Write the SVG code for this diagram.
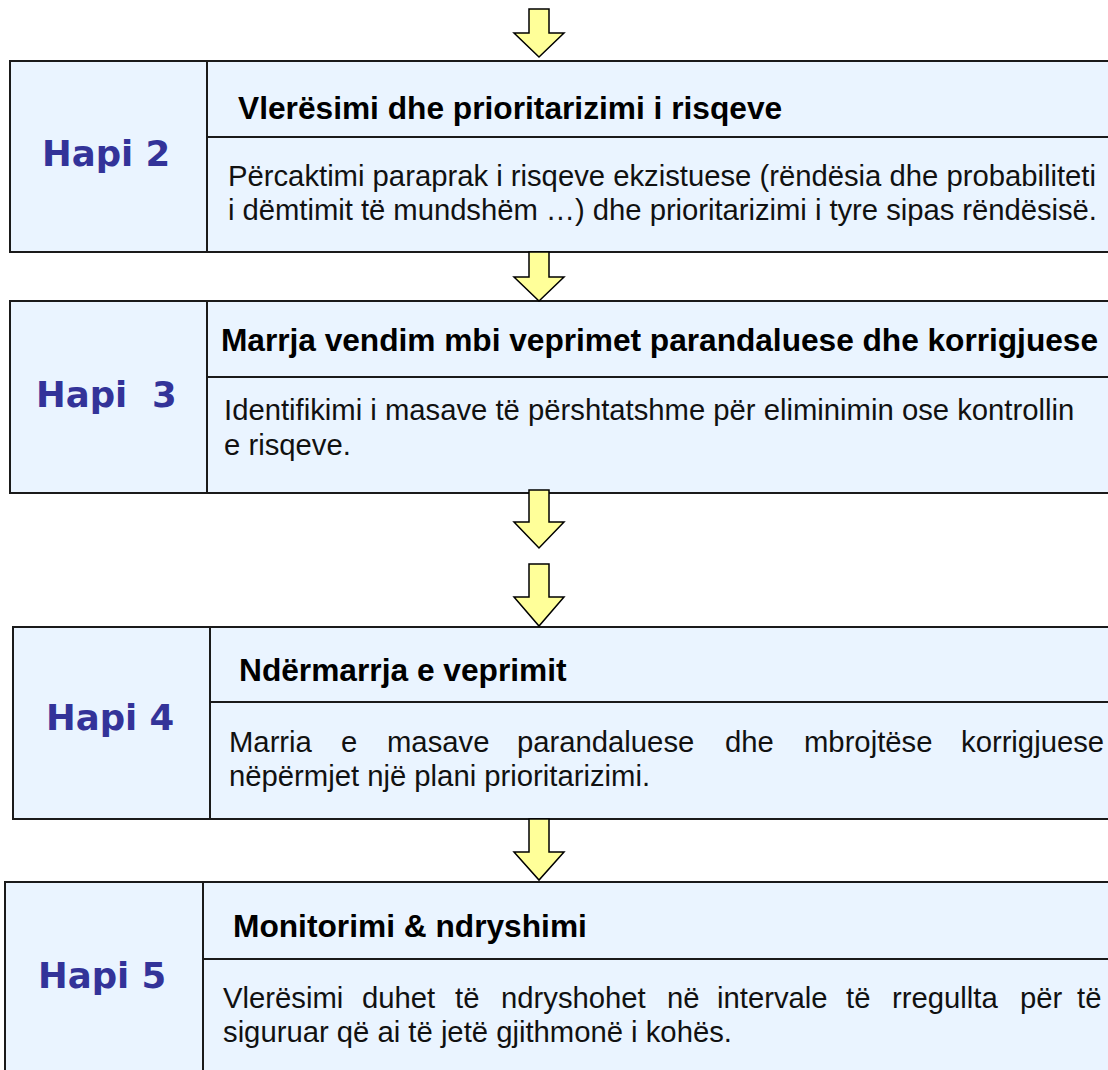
<svg xmlns="http://www.w3.org/2000/svg" width="1108" height="1070" viewBox="0 0 1108 1070">
<style>
.box{fill:#eaf4ff;stroke:#1a1a1a;stroke-width:2}
.ln{stroke:#1a1a1a;stroke-width:2;fill:none}
.hapi{font-family:"DejaVu Sans",Verdana,sans-serif;font-weight:bold;font-size:35.5px;fill:#333399}
.title{font-family:"Liberation Sans",Arial,sans-serif;font-weight:bold;font-size:31.7px;fill:#000}
.body{font-family:"Liberation Sans",Arial,sans-serif;font-size:29.25px;fill:#111}
.arrow{fill:#ffff99;stroke:#000;stroke-width:1.5;stroke-linejoin:miter}
</style>
<rect width="1108" height="1070" fill="#fff"/>

<g id="hapi2">
<rect class="box" x="10" y="61" width="1110" height="191"/>
<line class="ln" x1="207" y1="61" x2="207" y2="252"/>
<line class="ln" x1="207" y1="137" x2="1120" y2="137"/>
<text class="hapi" x="42" y="166">Hapi 2</text>
<text class="title" x="238" y="119">Vlerësimi dhe prioritarizimi i risqeve</text>
<text class="body" x="228" y="186" textLength="868" lengthAdjust="spacing">Përcaktimi paraprak i risqeve ekzistuese (rëndësia dhe probabiliteti</text>
<text class="body" x="228" y="220" textLength="869" lengthAdjust="spacing">i dëmtimit të mundshëm …) dhe prioritarizimi i tyre sipas rëndësisë.</text>
</g>

<g id="hapi3">
<rect class="box" x="10" y="301" width="1110" height="192"/>
<line class="ln" x1="207" y1="301" x2="207" y2="493"/>
<line class="ln" x1="207" y1="377" x2="1120" y2="377"/>
<text class="hapi" x="36" y="407" xml:space="preserve">Hapi  3</text>
<text class="title" x="221" y="351" textLength="877" lengthAdjust="spacing">Marrja vendim mbi veprimet parandaluese dhe korrigjuese</text>
<text class="body" x="224" y="420">Identifikimi i masave të përshtatshme për eliminimin ose kontrollin</text>
<text class="body" x="224" y="455">e risqeve.</text>
</g>

<g id="hapi4">
<rect class="box" x="13" y="627" width="1110" height="192"/>
<line class="ln" x1="210" y1="627" x2="210" y2="819"/>
<line class="ln" x1="210" y1="702" x2="1120" y2="702"/>
<text class="hapi" x="46" y="730">Hapi 4</text>
<text class="title" x="239" y="681">Ndërmarrja e veprimit</text>
<text class="body" y="752"><tspan x="229">Marria</tspan><tspan x="341">e</tspan><tspan x="387">masave</tspan><tspan x="517">parandaluese</tspan><tspan x="725">dhe</tspan><tspan x="804">mbrojtëse</tspan><tspan x="961">korrigjuese</tspan></text>
<text class="body" x="229" y="786">nëpërmjet një plani prioritarizimi.</text>
</g>

<g id="hapi5">
<rect class="box" x="5" y="882" width="1115" height="200"/>
<line class="ln" x1="203" y1="882" x2="203" y2="1082"/>
<line class="ln" x1="203" y1="959" x2="1120" y2="959"/>
<text class="hapi" x="38" y="988">Hapi 5</text>
<text class="title" x="233" y="937">Monitorimi &amp; ndryshimi</text>
<text class="body" y="1008"><tspan x="223">Vlerësimi</tspan><tspan x="362">duhet</tspan><tspan x="455">të</tspan><tspan x="501">ndryshohet</tspan><tspan x="667">në</tspan><tspan x="717">intervale</tspan><tspan x="846">të</tspan><tspan x="892">rregullta</tspan><tspan x="1020">për</tspan><tspan x="1077">të</tspan></text>
<text class="body" x="223" y="1042">siguruar që ai të jetë gjithmonë i kohës.</text>
</g>

<g id="connectors">
<path class="arrow" d="M529,9 H549 V33 H564 L539,57 L514,33 H529 Z"/>
<path class="arrow" d="M529,252 H549 V277 H564 L539,301 L514,277 H529 Z"/>
<path class="arrow" d="M529,490 H549 V522 H564 L539,548 L514,522 H529 Z"/>
<path class="arrow" d="M529,564 H549 V597 H564 L539,626 L514,597 H529 Z"/>
<path class="arrow" d="M529,819 H549 V852 H564 L539,880 L514,852 H529 Z"/>
</g>
</svg>
